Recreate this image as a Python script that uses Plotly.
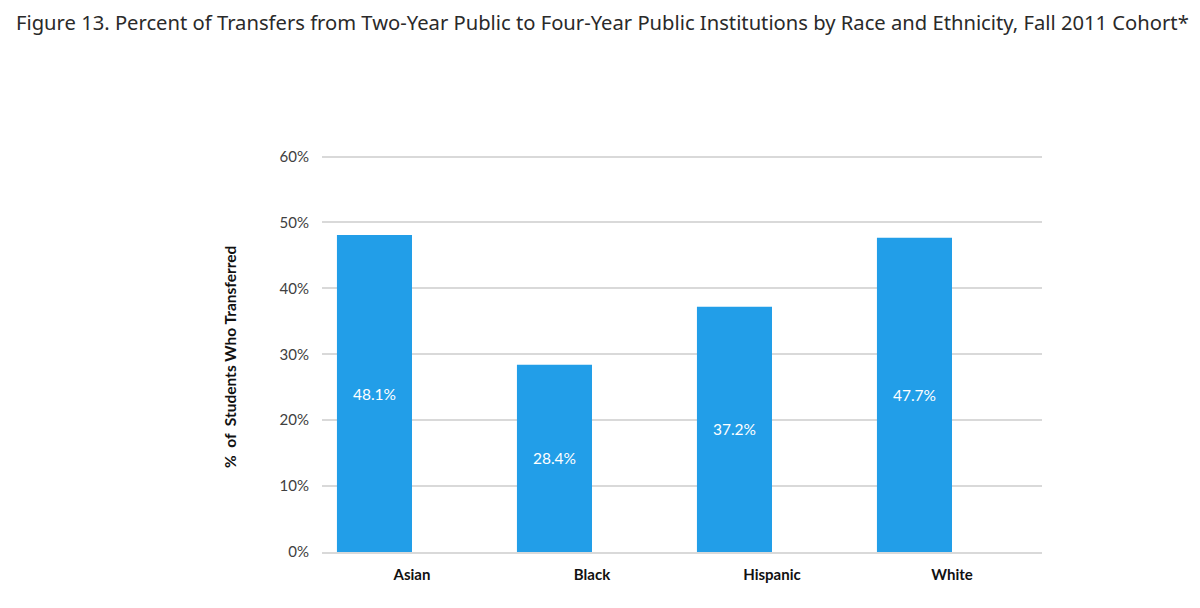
import plotly.graph_objects as go

categories = ["Asian", "Black", "Hispanic", "White"]
values = [48.1, 28.4, 37.2, 47.7]
bar_labels = ["48.1%", "28.4%", "37.2%", "47.7%"]
tick_vals = [0, 10, 20, 30, 40, 50, 60]
tick_text = ["0%", "10%", "20%", "30%", "40%", "50%", "60%"]

title_text = "Figure 13. Percent of Transfers from Two-Year Public to Four-Year Public Institutions by Race and Ethnicity, Fall 2011 Cohort*"
y_title = "%  of  Students Who Transferred"

# page body has an 8px margin; compensate
OFF = 8
W, H = 1184, 592
PL, PT, PW, PH = 322 - OFF, 150 - OFF, 720, 402

fig = go.Figure()
fig.add_trace(go.Bar(
    x=categories, y=values,
    width=0.417, offset=-0.417,
    marker=dict(color="#229ee8", line=dict(width=0)),
    text=bar_labels, textposition="inside", insidetextanchor="middle",
    textfont=dict(family="Lato", size=15.5, color="white"),
    textangle=0,
    hoverinfo="skip",
))

fig.update_layout(
    width=W, height=H,
    paper_bgcolor="white", plot_bgcolor="white",
    margin=dict(l=PL, r=W - PL - PW, t=PT, b=H - PT - PH),
    showlegend=False,
    font=dict(family="Lato", size=14, color="#404040"),
    xaxis=dict(
        showgrid=False, showline=True, linecolor="#d9d9d9", linewidth=1.5,
        ticks="", tickfont=dict(family="Lato", size=15, color="#111111", weight="bold"),
        ticklabelstandoff=8,
    ),
    yaxis=dict(
        range=[0, 61], tickvals=tick_vals, ticktext=tick_text,
        showgrid=True, gridcolor="#d9d9d9", gridwidth=1.5,
        zeroline=False, showline=False, ticks="",
        tickfont=dict(family="Lato", size=15, color="#404040"),
        ticklabelstandoff=12,
    ),
    annotations=[
        dict(text=title_text, xref="paper", yref="paper", x=(14 - OFF - PL) / PW, y=1 + (PT - (22 - OFF)) / PH,
             xanchor="left", yanchor="middle", showarrow=False,
             font=dict(family="Noto Sans", size=20.2, color="#2a2a2a")),
        dict(text=y_title, xref="paper", yref="paper", x=(230 - OFF - PL) / PW, y=(552 - 357) / PH,
             xanchor="center", yanchor="middle", textangle=-90, showarrow=False,
             font=dict(family="Lato", size=15.5, color="#111111", weight="bold")),
    ],
)

fig.write_html("out.html")
